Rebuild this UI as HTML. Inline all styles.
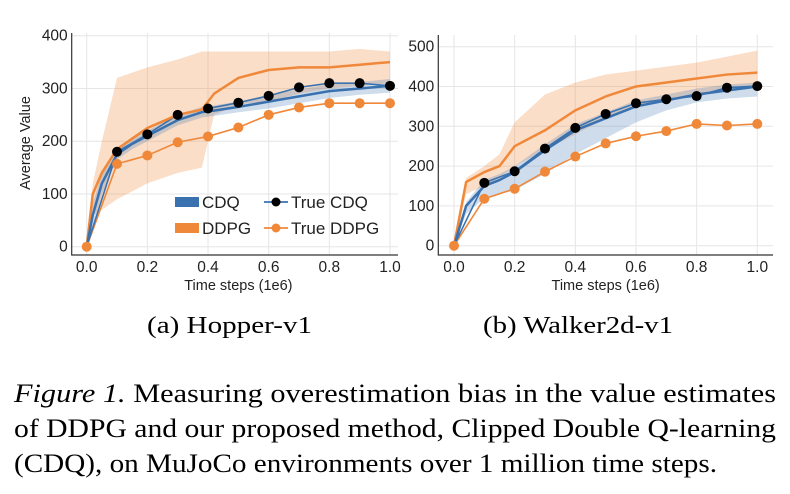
<!DOCTYPE html>
<html><head><meta charset="utf-8"><style>
body{margin:0;background:#fff;width:790px;height:489px;overflow:hidden}
svg text{font-family:"Liberation Sans",sans-serif}
svg text.cap{font-family:"Liberation Serif",serif}
</style></head><body>
<svg id="fig" width="790" height="489">
<g id="p1"></g>
<g id="p2"></g>
<text class="cap" x="147" y="333" font-size="24" textLength="165" lengthAdjust="spacingAndGlyphs">(a) Hopper-v1</text>
<text class="cap" x="483" y="333" font-size="24" textLength="190" lengthAdjust="spacingAndGlyphs">(b) Walker2d-v1</text>
<text class="cap" font-size="26">
<tspan x="14" y="402" textLength="762" lengthAdjust="spacingAndGlyphs"><tspan font-style="italic">Figure 1.</tspan> Measuring overestimation bias in the value estimates</tspan>
<tspan x="14" y="437" textLength="762" lengthAdjust="spacingAndGlyphs">of DDPG and our proposed method, Clipped Double Q-learning</tspan>
<tspan x="14" y="472" textLength="703" lengthAdjust="spacingAndGlyphs">(CDQ), on MuJoCo environments over 1 million time steps.</tspan>
</text>
</svg>
<script>
const NS="http://www.w3.org/2000/svg";
// Hopper data
const hX=[0,0.02,0.05,0.1,0.15,0.2,0.3,0.38,0.42,0.5,0.6,0.7,0.8,0.9,1.0];
const hDDPG=[0,100,140,185,205,225,250,260,290,320,335,340,340,345,350];
const hDDPGlo=[0,60,70,90,105,120,140,150,250,270,275,290,300,305,310];
const hDDPGhi=[0,120,200,320,330,340,355,370,370,370,370,370,370,375,370];
const hCDQ=[0,60,120,175,195,210,240,255,258,265,275,285,295,300,305];
const hCDQlo=[0,40,100,165,185,200,230,245,248,255,262,272,282,288,292];
const hCDQhi=[0,80,140,185,205,220,250,265,268,275,288,298,308,312,318];
const tX=[0,0.1,0.2,0.3,0.4,0.5,0.6,0.7,0.8,0.9,1.0];
const hTrueCDQ=[0,180,213,250,262,273,286,302,310,310,305];
const hTrueDDPG=[0,157,173,198,209,226,250,264,272,272,272];
// Walker data
const wX=[0,0.04,0.1,0.15,0.2,0.3,0.4,0.5,0.6,0.7,0.8,0.9,1.0];
const wDDPG=[0,160,185,200,250,290,340,375,400,410,420,430,435];
const wDDPGlo=[0,130,150,170,200,240,280,320,350,365,380,390,400];
const wDDPGhi=[0,170,200,230,310,380,410,430,440,450,460,475,490];
const wCDQ=[0,100,150,165,185,240,290,320,350,365,380,390,400];
const wCDQlo=[0,80,120,130,140,180,230,270,310,340,360,370,375];
const wCDQhi=[0,110,165,180,200,255,305,335,365,380,395,405,410];
const wTrueCDQ=[0,158,187,244,296,331,358,368,376,397,401];
const wTrueDDPG=[0,118,143,186,224,257,275,288,306,302,306];
const hYTicks=[0,100,200,300,400];
const wYTicks=[0,100,200,300,400,500];
const xTicks=[0,0.2,0.4,0.6,0.8,1.0];
const BLUE="#3a72b0",ORANGE="#f0883a";

function el(p,t,a){const e=document.createElementNS(NS,t);for(const k in a)e.setAttribute(k,a[k]);p.appendChild(e);return e;}
function chart(g,o){
  const sx=v=>o.x0+v*(o.x1-o.x0), sy=v=>o.y0-v*o.k;
  for(const t of o.yt){const l=el(g,'line',{x1:o.left,x2:o.right,y1:sy(t),y2:sy(t),stroke:'#e6e6e6','stroke-width':1});
    
    const tx=el(g,'text',{x:o.left-4,y:sy(t)+5,'font-size':15.5,'text-anchor':'end',fill:'#222'});tx.textContent=t;
    }
  for(const t of xTicks){const l=el(g,'line',{x1:sx(t),x2:sx(t),y1:o.top,y2:o.bottom,stroke:'#e6e6e6','stroke-width':1});
    
    const tx=el(g,'text',{x:sx(t),y:o.bottom+17,'font-size':15.5,'text-anchor':'middle',fill:'#222'});tx.textContent=t.toFixed(1);
    }
  const ax=el(g,'path',{d:`M${o.left},${o.top}V${o.bottom}H${o.right}`,fill:'none',stroke:'#333','stroke-width':1.2});
  
  const xt=el(g,'text',{x:(o.x0+o.x1)/2,y:o.bottom+35,'font-size':14.5,'text-anchor':'middle',fill:'#222'});xt.textContent='Time steps (1e6)';
  
  const band=(xs,lo,hi,c,op,name)=>{let d='M'+xs.map((x,i)=>sx(x)+','+sy(hi[i])).join('L');
    for(let i=xs.length-1;i>=0;i--)d+='L'+sx(xs[i])+','+sy(lo[i]);
    const p=el(g,'path',{d:d+'Z',fill:c,'fill-opacity':op});};
  const line=(xs,ys,c,w,name)=>{const p=el(g,'polyline',{points:xs.map((x,i)=>sx(x)+','+sy(ys[i])).join(' '),fill:'none',stroke:c,'stroke-width':w,'stroke-linejoin':'round'});
    };
  band(o.dx,o.dlo,o.dhi,ORANGE,0.28,'ddpg-band');
  band(o.cx,o.clo,o.chi,BLUE,0.25,'cdq-band');
  line(tX,o.td,ORANGE,1.6,'true-ddpg-line');
  line(tX,o.tc,BLUE,1.6,'true-cdq-line');
  line(o.dx,o.d,ORANGE,2.5,'ddpg-line');
  line(o.cx,o.c,BLUE,2.5,'cdq-line');
  tX.forEach((x,i)=>{const c=el(g,'circle',{cx:sx(x),cy:sy(o.td[i]),r:5,fill:ORANGE});
    });
  tX.forEach((x,i)=>{if(i==0)return;const c=el(g,'circle',{cx:sx(x),cy:sy(o.tc[i]),r:5,fill:'#000'});
    });
}
const p1=document.getElementById('p1'),p2=document.getElementById('p2');
chart(p1,{x0:86.7,x1:390,y0:246.7,k:0.5275,left:71.7,right:398,top:33,bottom:255,yt:hYTicks,
  dx:hX,d:hDDPG,dlo:hDDPGlo,dhi:hDDPGhi,cx:hX,c:hCDQ,clo:hCDQlo,chi:hCDQhi,tc:hTrueCDQ,td:hTrueDDPG});
chart(p2,{x0:454,x1:757.3,y0:245.7,k:0.398,left:438.3,right:773,top:35,bottom:255,yt:wYTicks,
  dx:wX,d:wDDPG,dlo:wDDPGlo,dhi:wDDPGhi,cx:wX,c:wCDQ,clo:wCDQlo,chi:wCDQhi,tc:wTrueCDQ,td:wTrueDDPG});
const yt=el(p1,'text',{x:0,y:0,'font-size':14.5,'text-anchor':'middle',fill:'#222',transform:'translate(30,143) rotate(-90)'});
yt.textContent='Average Value';


const lg=el(p1,'g',{});


const items=[[175,202,'rect',BLUE,'CDQ'],[175,228,'rect',ORANGE,'DDPG'],[264,202,'line','#000','True CDQ'],[264,228,'line',ORANGE,'True DDPG']];
for(const [x,y,t,c,label] of items){
  if(t=='rect'){el(lg,'rect',{x:x,y:y-5,width:24,height:10,fill:c});}
  else{el(lg,'line',{x1:x,x2:x+24,y1:y,y2:y,stroke:label=='True CDQ'?BLUE:ORANGE,'stroke-width':1.8});el(lg,'circle',{cx:x+12,cy:y,r:4.5,fill:c});}
  const tx=el(lg,'text',{x:x+27,y:y+6,'font-size':17,fill:'#222'});tx.textContent=label;
  
  
}
</script>
</body></html>
